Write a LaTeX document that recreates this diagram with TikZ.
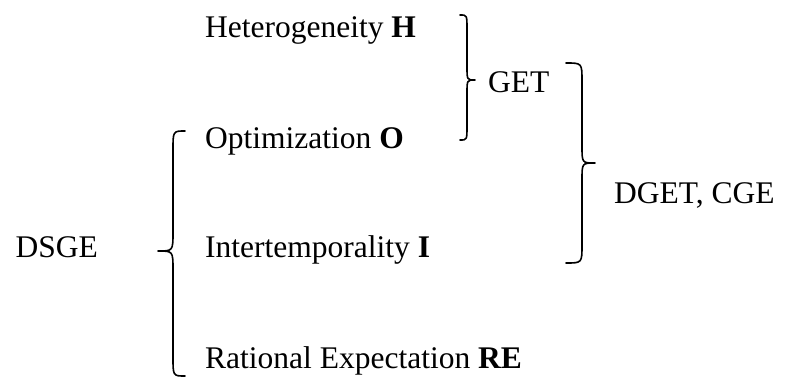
\documentclass[tikz,border=0pt]{standalone}
\usepackage{fontspec}
\setmainfont{Liberation Serif}
\tikzset{
  lbl/.style={inner sep=0pt, anchor=base west, font=\fontsize{31.5}{36}\selectfont},
  bracepath/.style={line width=1.6pt, line cap=round, line join=round}
}
\begin{document}
\begin{tikzpicture}[x=1pt,y=-1pt]
\useasboundingbox (0,0) rectangle (787,383);
% labels
\node[lbl] (het) at (205,37) {Heterogeneity \textbf{H}};
\node[lbl] (opt) at (205,148) {Optimization \textbf{O}};
\node[lbl] (int) at (205,257) {Intertemporality \textbf{I}};
\node[lbl] (rat) at (205,368) {Rational Expectation \textbf{RE}};
\node[lbl, anchor=base east] (dsge) at (98,257) {DSGE};
\node[lbl] (get) at (488,92) {GET};
\node[lbl] (dget) at (614,203) {DGET, CGE};
% left brace (DSGE)
\draw[bracepath] (185,131) .. controls (173,131) .. (173,150) -- (173,232)
  .. controls (173,251) .. (158,251) .. controls (173,251) .. (173,270)
  -- (173,357) .. controls (173,376) .. (185,376);
% GET brace
\draw[bracepath] (460,15) .. controls (467,15) .. (467,29) -- (467,67)
  .. controls (467,80) .. (475,80) .. controls (467,80) .. (467,93)
  -- (467,126) .. controls (467,140) .. (460,140);
% DGET brace
\draw[bracepath] (566,63) .. controls (582,63) .. (582,81) -- (582,146)
  .. controls (582,163) .. (595,163) .. controls (582,163) .. (582,180)
  -- (582,245) .. controls (582,263) .. (566,263);
\end{tikzpicture}
\end{document}
